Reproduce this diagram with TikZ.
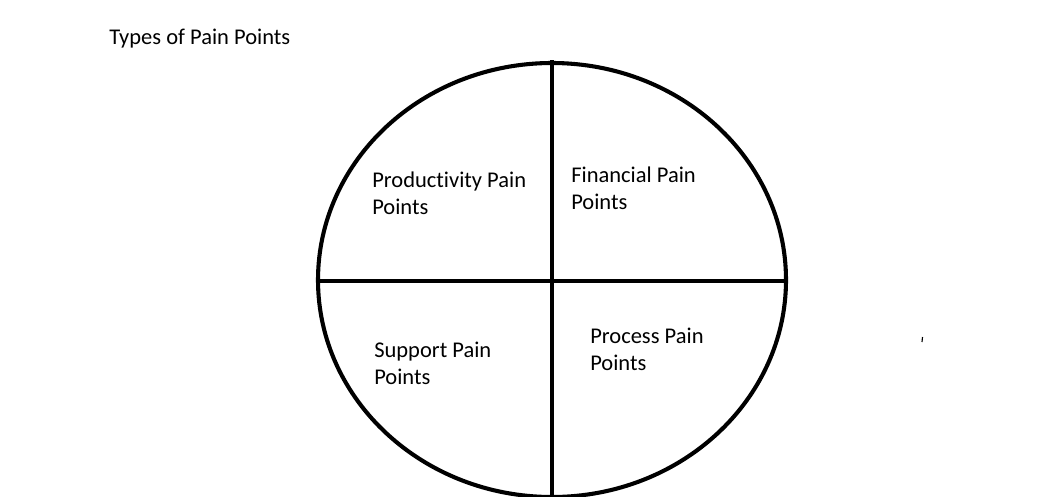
\documentclass[tikz,border=0pt]{standalone}
\usepackage{fontspec}
\setmainfont{Carlito}[Ligatures=NoCommon]
\tikzset{
  label text/.style={anchor=base west, inner sep=0pt, align=left, font=\fontsize{16}{18.5}\selectfont},
  pen/.style={line width=2.9pt}
}
\begin{document}
\begin{tikzpicture}[x=0.025cm,y=-0.025cm]
    \clip (0,0) rectangle (1038,496);
    \fill[white] (0,0) rectangle (1038,496);
    \node[label text] (title) at (109,44) {Types of Pain Points};
    \draw[pen] (552,280) ellipse [x radius=234, y radius=217];
    \draw[pen] (318,281) -- (786,281);
    \draw[line width=3.4pt] (552,60) -- (552,500);
    \node[label text] (productivity) at (372,214) {Productivity Pain\\Points};
    \node[label text] (financial) at (571,209) {Financial Pain\\Points};
    \node[label text] (support) at (374,384) {Support Pain\\Points};
    \node[label text] (process) at (590,370) {Process Pain\\Points};
    \draw[line width=0.8pt] (922.5,337) -- (922,342);
\end{tikzpicture}
\end{document}
